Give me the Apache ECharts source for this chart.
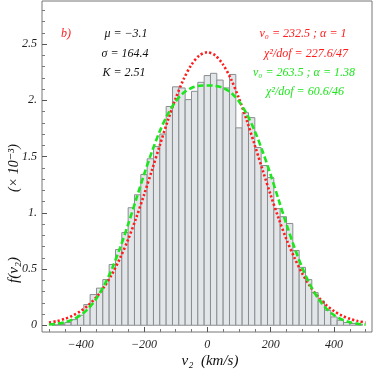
<!DOCTYPE html>
<html>
<head>
<meta charset="utf-8">
<script src="https://cdn.jsdelivr.net/npm/echarts@6/dist/echarts.min.js"></script>
<style>
html, body { margin: 0; padding: 0; background: #fff; }
#chart { width: 374px; height: 371px; }
</style>
</head>
<body>
<div id="chart"></div>
<script>
// histogram: bin centres (km/s) and heights (x 10^-3)
const binCenters = [-480, -460, -440, -420, -400, -380, -360, -340, -320, -300,
    -280, -260, -240, -220, -200, -180, -160, -140, -120, -100,
    -80, -60, -40, -20, 0, 20, 40, 60, 80, 100,
    120, 140, 160, 180, 200, 220, 240, 260, 280, 300,
    320, 340, 360, 380, 400, 420, 440, 460, 480];
const binHeights = [0.003, 0.006, 0.025, 0.05, 0.089, 0.184, 0.273, 0.33, 0.406, 0.54,
    0.673, 0.824, 1.045, 1.16, 1.34, 1.48, 1.59, 1.70, 1.945, 2.12,
    2.11, 2.006, 2.08, 2.16, 2.22, 2.24, 2.18, 2.11, 2.23, 1.755,
    1.89, 1.846, 1.58, 1.42, 1.313, 1.037, 0.965, 0.905, 0.665, 0.515,
    0.406, 0.29, 0.216, 0.133, 0.074, 0.044, 0.024, 0.015, 0.008];
const binWidth = 20;

// fitted curves read along v2
const fitV = [-500, -475, -450, -425, -400, -375, -350, -325, -300, -275, -250, -225, -200,
    -175, -150, -125, -100, -75, -50, -25, 0, 25, 50, 75, 100, 125, 150, 175,
    200, 225, 250, 275, 300, 325, 350, 375, 400, 425, 450, 475, 500];
const fitRed = [0.024, 0.037, 0.057, 0.086, 0.126, 0.180, 0.251, 0.344, 0.459, 0.600, 0.763, 0.951, 1.158,
    1.377, 1.600, 1.818, 2.017, 2.187, 2.317, 2.399, 2.427, 2.399, 2.317, 2.187, 2.017, 1.818, 1.600, 1.377,
    1.158, 0.951, 0.763, 0.600, 0.459, 0.344, 0.251, 0.180, 0.126, 0.086, 0.057, 0.037, 0.024];
const fitGreen = [0.006, 0.013, 0.027, 0.051, 0.090, 0.151, 0.239, 0.358, 0.510, 0.692, 0.897, 1.117, 1.338,
    1.543, 1.726, 1.876, 1.990, 2.067, 2.110, 2.129, 2.132, 2.129, 2.110, 2.067, 1.990, 1.876, 1.726, 1.543,
    1.338, 1.117, 0.897, 0.692, 0.510, 0.358, 0.239, 0.151, 0.090, 0.051, 0.027, 0.013, 0.006];

// ticks
const xMajorTicks = [-400, -200, 0, 200, 400];
const xMinorTicks = [-500, -450, -350, -300, -250, -150, -100, -50, 50, 100, 150, 250, 300, 350, 450, 500];
const yMajorTicks = [0, 0.5, 1, 1.5, 2, 2.5];
const yTickLabels = ['0', '0.5', '1.', '1.5', '2.', '2.5'];
const yMinorTicks = [0.1, 0.2, 0.3, 0.4, 0.6, 0.7, 0.8, 0.9, 1.1, 1.2, 1.3, 1.4,
    1.6, 1.7, 1.8, 1.9, 2.1, 2.2, 2.3, 2.4, 2.6, 2.7, 2.8];

const serif = '"Liberation Serif", "DejaVu Serif", serif';
const red = '#ff1c1c', green = '#1ee61e';

const chart = echarts.init(document.getElementById('chart'));

const xBase = {
    type: 'value', min: -522, max: 520, position: 'bottom',
    splitLine: { show: false }
};
const yBase = {
    type: 'value', min: -0.06, max: 2.883, position: 'left',
    splitLine: { show: false }
};

const options = {
    animation: false,
    grid: {
        left: 42, right: 2, top: 1, bottom: 39,
        show: true, borderColor: '#777', borderWidth: 1
    },
    xAxis: [
        Object.assign({}, xBase, {
            axisLine: { show: false, onZero: false },
            axisTick: { show: true, inside: true, length: 5, customValues: xMajorTicks,
                lineStyle: { color: '#555' } },
            axisLabel: { customValues: xMajorTicks, margin: 7,
                fontFamily: serif, fontStyle: 'italic', fontSize: 12, color: '#222',
                formatter: v => v < 0 ? '\u2212' + Math.abs(v) : String(v) }
        }),
        Object.assign({}, xBase, {
            axisLine: { show: false, onZero: false },
            axisTick: { show: true, inside: true, length: 3, customValues: xMinorTicks,
                lineStyle: { color: '#777' } },
            axisLabel: { show: false }
        })
    ],
    yAxis: [
        Object.assign({}, yBase, {
            axisLine: { show: false, onZero: false },
            axisTick: { show: true, inside: true, length: 5, customValues: yMajorTicks,
                lineStyle: { color: '#555' } },
            axisLabel: { customValues: yMajorTicks, margin: 5,
                fontFamily: serif, fontStyle: 'italic', fontSize: 12, color: '#222',
                formatter: v => yTickLabels[yMajorTicks.indexOf(v)] }
        }),
        Object.assign({}, yBase, {
            axisLine: { show: false, onZero: false },
            axisTick: { show: true, inside: true, length: 3, customValues: yMinorTicks,
                lineStyle: { color: '#777' } },
            axisLabel: { show: false }
        })
    ],
    series: [
        {
            type: 'custom',
            data: binCenters.map((c, i) => [c, binHeights[i]]),
            encode: { x: 0, y: 1 },
            renderItem: (params, api) => {
                const c = api.value(0), h = api.value(1);
                const p0 = api.coord([c - binWidth / 2, 0]);
                const p1 = api.coord([c + binWidth / 2, h]);
                return {
                    type: 'rect',
                    shape: { x: p0[0], y: p1[1], width: p1[0] - p0[0], height: p0[1] - p1[1] },
                    style: { fill: '#e3e6e9', stroke: '#8a8d90', lineWidth: 1 }
                };
            },
            z: 2
        },
        {
            type: 'line',
            data: fitV.map((v, i) => [v, fitRed[i]]),
            smooth: 0.3, showSymbol: false,
            lineStyle: { color: red, width: 2.6, type: [2.2, 2.2] },
            z: 4
        },
        {
            type: 'line',
            data: fitV.map((v, i) => [v, fitGreen[i]]),
            smooth: 0.3, showSymbol: false,
            lineStyle: { color: green, width: 2.6, type: [6, 3] },
            z: 5
        }
    ],
    graphic: [
        { type: 'text', x: 66, y: 34, style: { text: 'b)', fill: red, font: 'italic 12px ' + serif, align: 'center', verticalAlign: 'middle' } },
        { type: 'text', x: 126, y: 34, style: { text: '\u03bc = \u22123.1', fill: '#111', font: 'italic 12px ' + serif, align: 'center', verticalAlign: 'middle' } },
        { type: 'text', x: 125, y: 54, style: { text: '\u03c3 = 164.4', fill: '#111', font: 'italic 12px ' + serif, align: 'center', verticalAlign: 'middle' } },
        { type: 'text', x: 124, y: 73, style: { text: 'K = 2.51', fill: '#111', font: 'italic 12px ' + serif, align: 'center', verticalAlign: 'middle' } },
        { type: 'text', x: 303, y: 34, style: { text: 'v\u2080 = 232.5 ; \u03b1 = 1', fill: red, font: 'italic 12px ' + serif, align: 'center', verticalAlign: 'middle' } },
        { type: 'text', x: 306, y: 54, style: { text: '\u03c7\u00b2/dof = 227.6/47', fill: red, font: 'italic 12px ' + serif, align: 'center', verticalAlign: 'middle' } },
        { type: 'text', x: 304, y: 73, style: { text: 'v\u2080 = 263.5 ; \u03b1 = 1.38', fill: green, font: 'italic 12px ' + serif, align: 'center', verticalAlign: 'middle' } },
        { type: 'text', x: 305, y: 92, style: { text: '\u03c7\u00b2/dof = 60.6/46', fill: green, font: 'italic 12px ' + serif, align: 'center', verticalAlign: 'middle' } },
        { type: 'text', x: 210, y: 361, style: { text: 'v\u2082  (km/s)', fill: '#111', font: 'italic 15px ' + serif, align: 'center', verticalAlign: 'middle' } },
        { type: 'text', x: 14, y: 270, rotation: Math.PI / 2, style: { text: 'f(v\u2082)', fill: '#111', font: 'italic 15px ' + serif, align: 'center', verticalAlign: 'middle' } },
        { type: 'text', x: 14, y: 168, rotation: Math.PI / 2, style: { text: '(\u00d7 10\u207b\u00b3)', fill: '#111', font: 'italic 14px ' + serif, align: 'center', verticalAlign: 'middle' } }
    ]
};

chart.setOption(options);
window.addEventListener('resize', () => chart.resize());
</script>
</body>
</html>
